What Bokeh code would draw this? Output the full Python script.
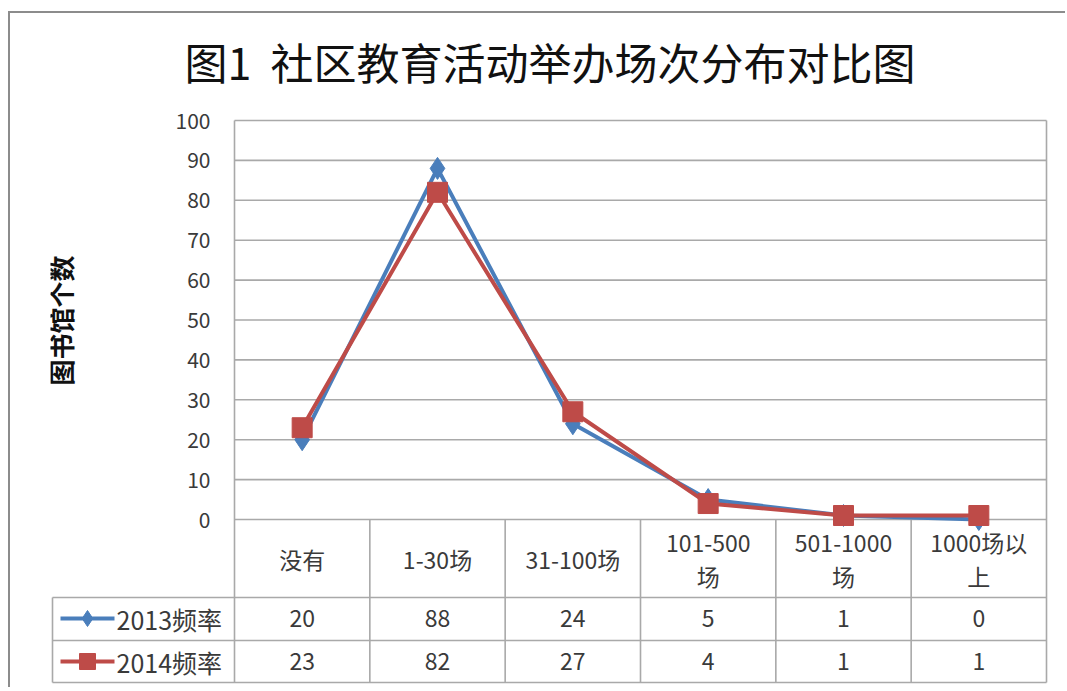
import math
from bokeh.plotting import figure
from bokeh.models import FixedTicker
from bokeh.embed import file_html
from bokeh.resources import INLINE
from bokeh.core.properties import value

# ---------------- data ----------------
categories = ["没有", "1-30场", "31-100场", "101-500\n场", "501-1000\n场", "1000场以\n上"]
series_names = ["2013频率", "2014频率"]
values_2013 = [20, 88, 24, 5, 1, 0]
values_2014 = [23, 82, 27, 4, 1, 1]
y_ticks = [0, 10, 20, 30, 40, 50, 60, 70, 80, 90, 100]
title_text = "图1\u00a0\u00a0社区教育活动举办场次分布对比图"
y_label = "图书馆个数"

# ---------------- layout helpers (reference pixel geometry) ----------------
PLOT_LEFT, PLOT_RIGHT = 234.0, 1046.0
Y0_PX, Y100_PX = 519.0, 120.0
ncat = len(categories)
ppx = (PLOT_RIGHT - PLOT_LEFT) / ncat
ppy = (Y0_PX - Y100_PX) / 100.0


def rx(px):
    return (px - PLOT_LEFT) / ppx


def ry(py):
    return (Y0_PX - py) / ppy


OX, OY = 10, 13          # figure origin on the page (after margin + border)
W, H = 1057, 676
F_L, F_R, F_T, F_B = 50, 1049, 100, 684   # frame edges in page px

FONT = value("Noto Sans CJK SC")
GRID = "#a9a9a9"
TXT = "#3a3a3a"
BLUE = "#4A7EBB"
RED = "#BE4B48"
TS = "23px"

p = figure(width=W, height=H,
           x_range=(rx(F_L), rx(F_R)), y_range=(ry(F_B), ry(F_T)),
           output_backend="svg", toolbar_location=None,
           min_border_left=F_L - OX, min_border_right=OX + W - F_R,
           min_border_top=F_T - OY, min_border_bottom=OY + H - F_B)
p.outline_line_color = None
p.grid.visible = False
p.xaxis.visible = False
p.styles = {"margin-left": "8px", "margin-top": "11px",
            "border-left": "2px solid #8c8c8c", "border-top": "2px solid #8c8c8c"}

# title
p.title.text = title_text
p.title.align = "center"
p.title.text_font = "Noto Sans CJK SC"
p.title.text_font_size = "43px"
p.title.text_font_style = "normal"
p.title.text_color = "#111111"
p.title.standoff = 18

# y axis at x = 0
ya = p.yaxis[0]
ya.fixed_location = 0
ya.ticker = FixedTicker(ticks=y_ticks)
ya.axis_line_color = None
ya.major_tick_line_color = None
ya.minor_tick_line_color = None
ya.major_tick_out = 0
ya.major_label_standoff = 24
ya.major_label_text_font = "Noto Sans CJK SC"
ya.major_label_text_font_size = "21px"
ya.major_label_text_color = TXT

# gridlines (plot area only)
gy = y_ticks[1:]
p.segment(x0=[0] * len(gy), y0=gy, x1=[ncat] * len(gy), y1=gy,
          line_color=GRID, line_width=1.6)

# table geometry
row_top = ry(597)
row_mid = ry(640)
row_bot = ry(682)
leg_left = rx(52)
p.segment(x0=[0, leg_left, leg_left, leg_left], y0=[0, row_top, row_mid, row_bot],
          x1=[ncat] * 4, y1=[0, row_top, row_mid, row_bot],
          line_color=GRID, line_width=1.6)
vx = list(range(ncat + 1))
vtop = [100] + [0] * (ncat - 1) + [100]
p.segment(x0=vx, y0=[row_bot] * len(vx), x1=vx, y1=vtop,
          line_color=GRID, line_width=1.6)
p.segment(x0=[leg_left], y0=[row_bot], x1=[leg_left], y1=[row_top],
          line_color=GRID, line_width=1.6)

# series
xc = [i + 0.5 for i in range(ncat)]
p.line(xc, values_2013, line_color=BLUE, line_width=4)
p.scatter(xc, values_2013, marker="diamond", size=22, fill_color=BLUE, line_color=BLUE)
p.line(xc, values_2014, line_color=RED, line_width=4)
p.scatter(xc, values_2014, marker="square", size=20, fill_color=RED, line_color=RED)

# header row
p.text(x=xc, y=[ry(558)] * ncat, text=categories, text_font=FONT,
       text_font_size=value(TS), text_align="center", text_baseline="middle",
       text_color=TXT, text_line_height=1.0)

# value rows
r13 = ry(618)
r14 = ry(661)
p.text(x=xc, y=[r13] * ncat, text=[str(v) for v in values_2013], text_font=FONT,
       text_font_size=value(TS), text_align="center", text_baseline="middle",
       text_color=TXT)
p.text(x=xc, y=[r14] * ncat, text=[str(v) for v in values_2014], text_font=FONT,
       text_font_size=value(TS), text_align="center", text_baseline="middle",
       text_color=TXT)

# legend keys in table
kx0, kx1 = rx(60), rx(114)
kxm = (kx0 + kx1) / 2
p.segment(x0=[kx0], y0=[r13], x1=[kx1], y1=[r13], line_color=BLUE, line_width=4)
p.scatter([kxm], [r13], marker="diamond", size=16, fill_color=BLUE, line_color=BLUE)
p.segment(x0=[kx0], y0=[r14], x1=[kx1], y1=[r14], line_color=RED, line_width=4)
p.scatter([kxm], [r14], marker="square", size=16, fill_color=RED, line_color=RED)
p.text(x=[rx(116), rx(116)], y=[r13, r14], text=series_names, text_font=FONT,
       text_font_size=value("25px"), text_align="left", text_baseline="middle",
       text_color=TXT)

# y label
p.text(x=[rx(60)], y=[ry(320)], text=[y_label], angle=math.pi / 2, text_font=FONT,
       text_font_size=value("26px"), text_font_style="bold", text_align="center",
       text_baseline="middle", text_color="#111111")

open("out.html", "w").write(file_html(p, INLINE))
